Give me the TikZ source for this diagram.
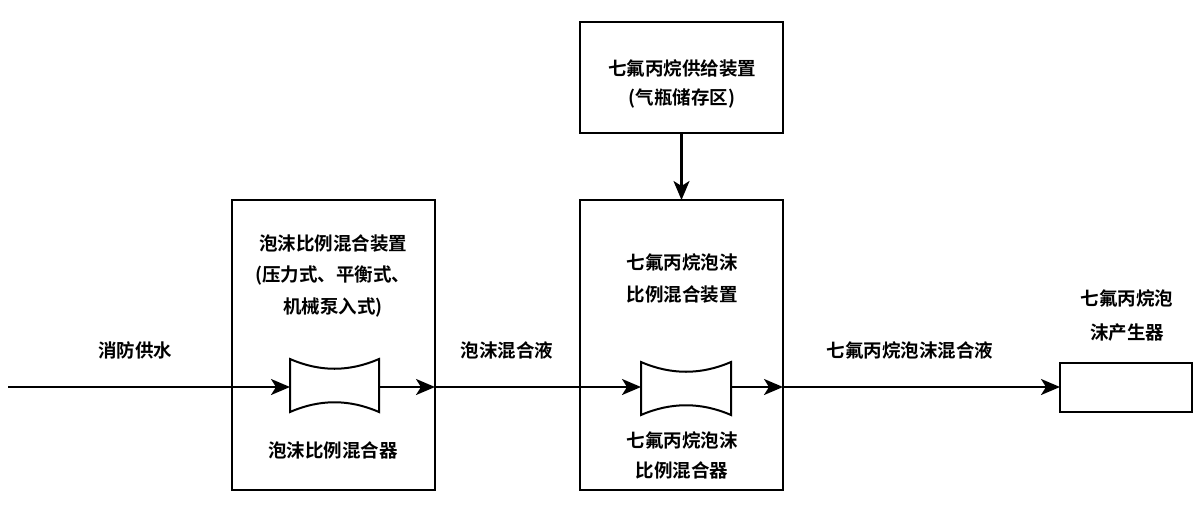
\documentclass[tikz,border=0pt]{standalone}
\usepackage{fontspec}
\newfontfamily\cjk{Noto Sans CJK SC Bold}
\usetikzlibrary{arrows.meta}
\begin{document}
\begin{tikzpicture}[x=1pt,y=-1pt,line width=2.2pt,
  box/.style={draw,line width=2.2pt},
  arr/.style={-{Stealth[length=19pt,width=16pt,inset=5pt]}},
  t/.style={font=\cjk\fontsize{18.5}{18.5}\selectfont,inner sep=0}]
\useasboundingbox (0,0) rectangle (1200,512);
\draw[box] (232,200) rectangle (435,490);
\draw[box] (580,200) rectangle (783,490);
\draw[box] (580,22) rectangle (783,133);
\draw[box] (1060,363) rectangle (1192,412);
% mixers
\draw[line width=2pt] (290,359) .. controls (320,372) and (349,372) .. (379,359) -- (379,412) .. controls (349,399) and (320,399) .. (290,412) -- cycle;
\draw[line width=2pt] (641,362) .. controls (671,375) and (701,375) .. (731,362) -- (731,415) .. controls (701,402) and (671,402) .. (641,415) -- cycle;
\coordinate (s) at (8,387);
\coordinate (m1l) at (290,387); \coordinate (m1r) at (379,387);
\coordinate (b1r) at (435,387); \coordinate (m2l) at (641,387);
\coordinate (m2r) at (731,387); \coordinate (b2r) at (783,387);
\coordinate (o) at (1060,387);
\coordinate (tb) at (681.5,133); \coordinate (mb) at (681.5,200);
\draw[arr] (s) -- (m1l);
\draw[arr] (m1r) -- (b1r);
\draw[arr] (b1r) -- (m2l);
\draw[arr] (m2r) -- (b2r);
\draw[arr] (b2r) -- (o);
\draw[arr] (tb) -- (mb);
\node[t] at (135,350) {消防供水};
\node[t] at (507,350) {泡沫混合液};
\node[t] at (910,350) {七氟丙烷泡沫混合液};
\node[t] at (1127,298) {七氟丙烷泡};
\node[t] at (1127,333) {沫产生器};
\node[t] at (333,243) {泡沫比例混合装置};
\node[t] at (333,275) {(压力式、平衡式、};
\node[t] at (333,307) {机械泵入式)};
\node[t] at (333,450) {泡沫比例混合器};
\node[t] at (682,262) {七氟丙烷泡沫};
\node[t] at (682,294) {比例混合装置};
\node[t] at (682,440) {七氟丙烷泡沫};
\node[t] at (682,470) {比例混合器};
\node[t] at (682,68) {七氟丙烷供给装置};
\node[t] at (682,98) {(气瓶储存区)};
\end{tikzpicture}
\end{document}
